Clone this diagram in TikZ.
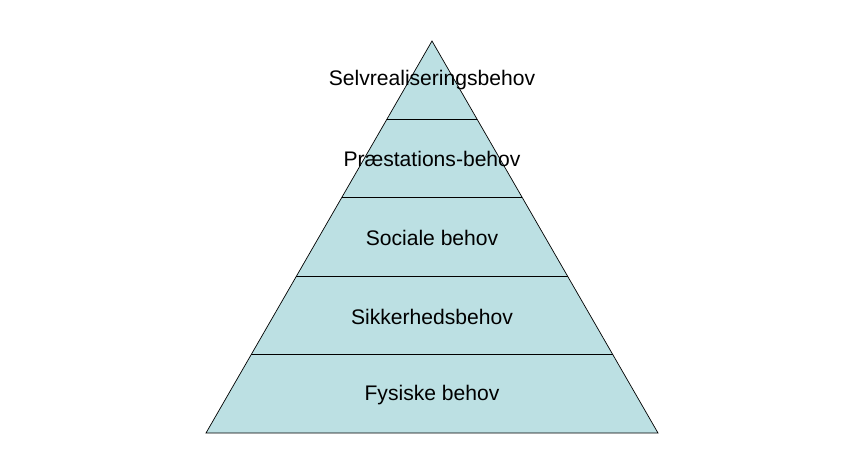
\documentclass[tikz,border=0pt]{standalone}
\usepackage{fontspec}
\setmainfont{Liberation Sans}
\usetikzlibrary{calc}
\definecolor{pyrfill}{RGB}{188,224,227}
\tikzstyle{level} = [font=\fontsize{18}{22}\selectfont, text=black]

\begin{document}
\begin{tikzpicture}[x=0.03cm,y=-0.03cm]

        \useasboundingbox (0,0) rectangle (864,475);
        \coordinate (apex) at (432,41);
        \coordinate (bl) at (206,433);
        \coordinate (br) at (658,433);

        \draw [fill=pyrfill, line width=0.6pt] (apex) -- (bl) -- (br) -- cycle;
        \foreach \t in {0.2,0.4,0.6,0.8}
                \draw [line width=0.6pt] ($(apex)!\t!(bl)$) -- ($(apex)!\t!(br)$);

        \node (self) [level] at (432,80) {Selvrealiseringsbehov};
        \node (praes) [level] at (432,159) {Præstations-behov};
        \node (social) [level] at (432,238) {Sociale behov};
        \node (sikker) [level] at (432,317) {Sikkerhedsbehov};
        \node (fysisk) [level] at (432,395) {Fysiske behov};

\end{tikzpicture}
\end{document}
